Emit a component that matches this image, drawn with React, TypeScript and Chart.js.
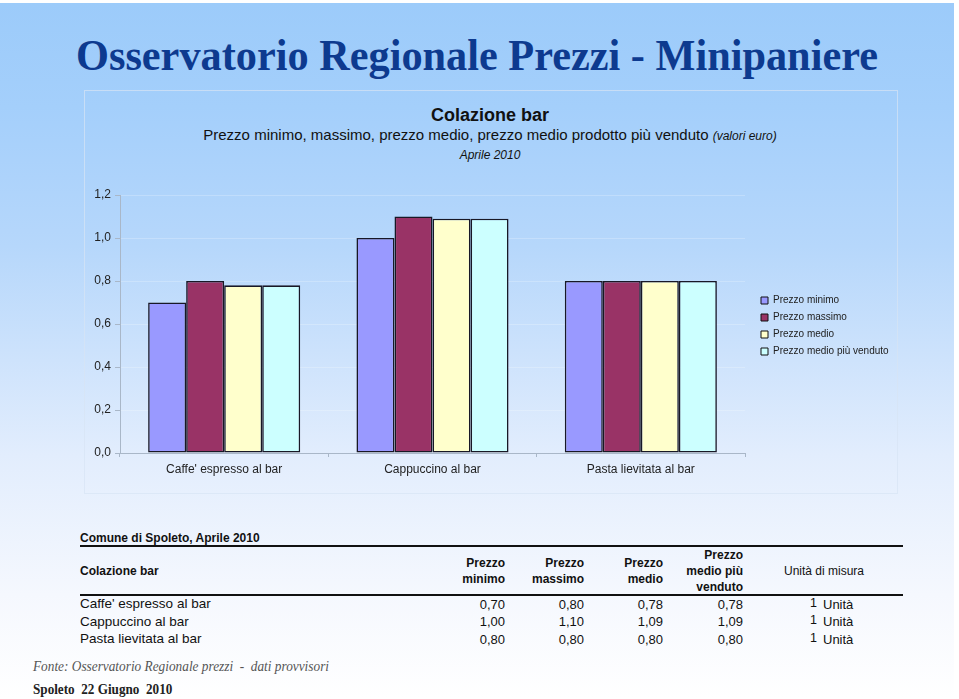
import React, { useEffect, useRef } from "react";
import { Chart, registerables } from "chart.js";

Chart.register(...registerables);

const categories = ["Caffe' espresso al bar", "Cappuccino al bar", "Pasta lievitata al bar"];
const seriesLabels = ["Prezzo minimo", "Prezzo massimo", "Prezzo medio", "Prezzo medio più venduto"];
const prezzoMinimo = [0.7, 1.0, 0.8];
const prezzoMassimo = [0.8, 1.1, 0.8];
const prezzoMedio = [0.78, 1.09, 0.8];
const prezzoPiuVenduto = [0.78, 1.09, 0.8];
const unitaQuantita = [1, 1, 1];
const unitaNome = ["Unità", "Unità", "Unità"];
const seriesColors = ["#9999FF", "#993366", "#FFFFCC", "#CCFFFF"];
const yMin = 0;
const yMax = 1.2;
const yStep = 0.2;

const SANS = "'Liberation Sans', Arial, Helvetica, sans-serif";
const SERIF = "'Liberation Serif', 'Times New Roman', serif";

const CANVAS_LEFT = 84;
const CANVAS_TOP = 180;
const CANVAS_W = 813;
const CANVAS_H = 297;

const fmt = (v: number, d: number) => v.toFixed(d).replace(".", ",");

type TxtProps = {
  x: number;
  y: number;
  size: number;
  text: string;
  align?: "left" | "center" | "right";
  bold?: boolean;
  italic?: boolean;
  family?: string;
  color?: string;
  scaleX?: number;
};

function Txt({ x, y, size, text, align = "left", bold, italic, family = SANS, color = "#111", scaleX = 1 }: TxtProps) {
  const W = 1000;
  let left = x;
  let origin = "left center";
  if (align === "center") {
    left = x - W / 2;
    origin = "center center";
  } else if (align === "right") {
    left = x - W;
    origin = "right center";
  }
  return (
    <div
      style={{
        position: "absolute",
        left,
        top: y - size / 2,
        width: W,
        height: size,
        lineHeight: size + "px",
        fontSize: size,
        fontFamily: family,
        fontWeight: bold ? "bold" : "normal",
        fontStyle: italic ? "italic" : "normal",
        color,
        textAlign: align,
        whiteSpace: "pre",
        transform: scaleX !== 1 ? `scaleX(${scaleX})` : undefined,
        transformOrigin: origin,
      }}
    >
      {text}
    </div>
  );
}

function HLine({ x1, x2, y, w }: { x1: number; x2: number; y: number; w: number }) {
  return <div style={{ position: "absolute", left: x1, top: y, width: x2 - x1, height: w, background: "#111" }} />;
}

export default function App() {
  const canvasRef = useRef<HTMLCanvasElement | null>(null);

  useEffect(() => {
    const canvas = canvasRef.current;
    if (!canvas) return;
    const legendShift = {
      id: "legendShift",
      afterLayout(chart: any) {
        const lg = chart.legend;
        if (!lg) return;
        const pad = lg.options.labels.padding;
        const target = 761 - CANVAS_LEFT - pad;
        lg.left = target;
        lg.right = target + 160;
        lg.top -= 10;
        lg.bottom -= 10;
      },
    };
    const data = [prezzoMinimo, prezzoMassimo, prezzoMedio, prezzoPiuVenduto];
    const chart = new Chart(canvas, {
      type: "bar",
      data: {
        labels: categories,
        datasets: data.map((d, i) => ({
          label: seriesLabels[i],
          data: d,
          backgroundColor: seriesColors[i],
          borderColor: "#181826",
          borderWidth: 1.6,
          borderSkipped: false,
          categoryPercentage: 0.73,
          barPercentage: 1,
        })),
      },
      options: {
        responsive: false,
        animation: false,
        devicePixelRatio: 1,
        layout: { padding: { top: 15, right: 32, bottom: 0, left: 0 } },
        plugins: {
          title: { display: false },
          tooltip: { enabled: false },
          legend: {
            position: "right",
            align: "center",
            maxWidth: 120,
            labels: {
              boxWidth: 7,
              boxHeight: 7,
              padding: 7,
              color: "#222",
              font: { family: SANS, size: 10 },
              generateLabels: (c: any) =>
                Chart.defaults.plugins.legend.labels.generateLabels(c).map((l: any) => ({
                  ...l,
                  lineWidth: 1,
                  strokeStyle: "#111",
                })),
            },
          },
        },
        scales: {
          x: {
            grid: {
              display: true,
              drawOnChartArea: false,
              drawTicks: true,
              tickLength: 4,
              tickColor: "#a9b7c8",
              offset: true,
            },
            border: { display: true, color: "#a9b7c8", width: 1 },
            ticks: {
              color: "#222",
              font: { family: SANS, size: 12 },
              padding: 5,
              maxRotation: 0,
            },
            afterFit: (s: any) => {
              s.height = 24;
            },
          },
          y: {
            min: yMin,
            max: yMax,
            grid: {
              color: "rgba(255,255,255,0.22)",
              tickColor: "#a9b7c8",
              tickLength: 5,
              drawTicks: true,
            },
            border: { display: true, color: "#a9b7c8", width: 1 },
            ticks: {
              stepSize: yStep,
              color: "#222",
              font: { family: SANS, size: 12 },
              padding: 4,
              callback: (v: any) => fmt(Number(v), 1),
            },
            afterFit: (s: any) => {
              s.width = 36;
            },
          },
        },
      },
      plugins: [legendShift],
    });
    return () => chart.destroy();
  }, []);

  const colEnds = [505, 584, 663, 743];
  const seriesData = [prezzoMinimo, prezzoMassimo, prezzoMedio, prezzoPiuVenduto];
  const rowY = [604, 621.5, 639];

  return (
    <div style={{ position: "absolute", left: 0, top: 0, width: 959, height: 699, overflow: "hidden", background: "#fff" }}>
      <div
        style={{
          position: "absolute",
          left: 0,
          top: 3,
          width: 954,
          height: 696,
          background:
            "linear-gradient(to bottom, #9ccbfa 0%, #a4cffb 15%, #b6d7fb 35%, #e2edfd 65%, #f5f8fe 85%, #ffffff 100%)",
        }}
      />
      <Txt
        x={477}
        y={55}
        size={45}
        text="Osservatorio Regionale Prezzi - Minipaniere"
        align="center"
        bold
        family={SERIF}
        color="#0d3a8f"
        scaleX={0.94}
      />
      <div
        style={{
          position: "absolute",
          left: 84,
          top: 90,
          width: 812,
          height: 402,
          border: "1px solid rgba(215,228,243,0.7)",
        }}
      />
      <Txt x={490} y={115} size={18} text="Colazione bar" align="center" bold color="#111" />
      <div
        style={{
          position: "absolute",
          left: -10,
          width: 1000,
          top: 127,
          height: 16,
          lineHeight: "16px",
          textAlign: "center",
          whiteSpace: "nowrap",
          fontFamily: SANS,
          color: "#111",
          fontSize: 15,
        }}
      >
        Prezzo minimo, massimo, prezzo medio, prezzo medio prodotto più venduto{" "}
        <span style={{ fontStyle: "italic", fontSize: 12 }}>(valori euro)</span>
      </div>
      <Txt x={490} y={155} size={12} text="Aprile 2010" align="center" italic color="#111" />

      <canvas
        ref={canvasRef}
        width={CANVAS_W}
        height={CANVAS_H}
        style={{ position: "absolute", left: CANVAS_LEFT, top: CANVAS_TOP, width: CANVAS_W, height: CANVAS_H }}
      />

      <Txt x={80} y={538} size={12} text="Comune di Spoleto, Aprile 2010" bold />
      <HLine x1={80} x2={903} y={545} w={2} />
      <Txt x={80} y={571} size={12} text="Colazione bar" bold />
      <Txt x={colEnds[0]} y={563} size={12} text="Prezzo" bold align="right" />
      <Txt x={colEnds[0]} y={579} size={12} text="minimo" bold align="right" />
      <Txt x={colEnds[1]} y={563} size={12} text="Prezzo" bold align="right" />
      <Txt x={colEnds[1]} y={579} size={12} text="massimo" bold align="right" />
      <Txt x={colEnds[2]} y={563} size={12} text="Prezzo" bold align="right" />
      <Txt x={colEnds[2]} y={579} size={12} text="medio" bold align="right" />
      <Txt x={colEnds[3]} y={555} size={12} text="Prezzo" bold align="right" />
      <Txt x={colEnds[3]} y={571} size={12} text="medio più" bold align="right" />
      <Txt x={colEnds[3]} y={587} size={12} text="venduto" bold align="right" />
      <Txt x={824} y={571} size={12} text="Unità di misura" align="center" />
      <HLine x1={80} x2={903} y={594} w={2} />
      {categories.map((c, r) => (
        <React.Fragment key={c}>
          <Txt x={80} y={rowY[r]} size={13.5} text={c} />
          {seriesData.map((s, i) => (
            <Txt key={i} x={colEnds[i]} y={rowY[r]} size={13} text={fmt(s[r], 2)} align="right" />
          ))}
          <Txt x={817} y={rowY[r] - 1} size={12.5} text={String(unitaQuantita[r])} align="right" />
          <Txt x={823} y={rowY[r]} size={13} text={unitaNome[r]} />
        </React.Fragment>
      ))}

      <Txt
        x={33}
        y={667}
        size={14}
        text="Fonte: Osservatorio Regionale prezzi  -  dati provvisori"
        italic
        family={SERIF}
        color="#555"
        scaleX={0.95}
      />
      <Txt x={33} y={690} size={14} text="Spoleto  22 Giugno  2010" bold family={SERIF} color="#222" scaleX={0.94} />
    </div>
  );
}
